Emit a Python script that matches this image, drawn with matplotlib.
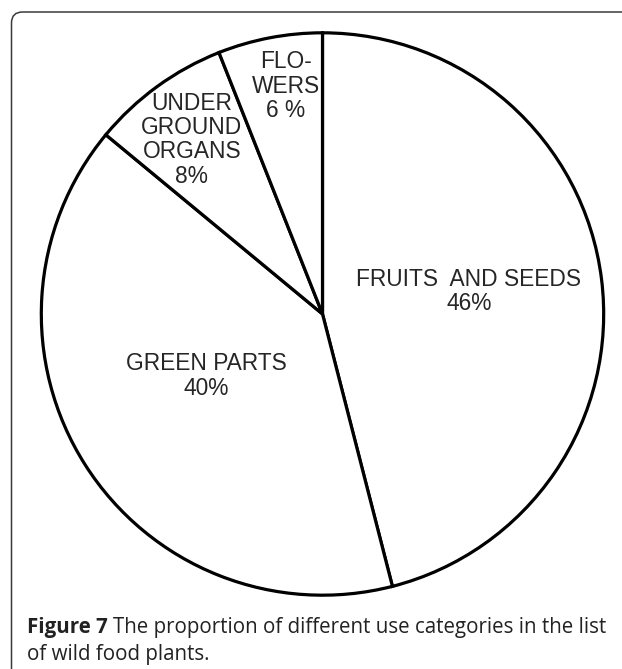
import matplotlib
matplotlib.use("Agg")
import matplotlib.pyplot as plt
from matplotlib.patches import FancyBboxPatch

# use categories and their shares (%)
categories = ["FRUITS  AND SEEDS", "GREEN PARTS", "UNDER\nGROUND\nORGANS", "FLO-\nWERS"]
shares = [46, 40, 8, 6]
pct_labels = ["46%", "40%", "8%", "6 %"]

# where each label sits inside the pie (in pie-radius units)
label_pos = [(0.52, 0.08), (-0.414, -0.22), (-0.465, 0.62), (-0.13, 0.81)]

W, H = 622, 669
fig = plt.figure(figsize=(W / 100, H / 100), dpi=100)

# frame around the figure panel
bg = fig.add_axes([0, 0, 1, 1])
bg.set_xlim(0, W)
bg.set_ylim(H, 0)
bg.axis("off")
frame = FancyBboxPatch((11.5, 12), 700, 700, boxstyle="round,pad=0,rounding_size=11",
                       fill=False, edgecolor="#3a3a3a", linewidth=1.1)
bg.add_patch(frame)

cx, cy, r = 322.5, 314, 284
ax = fig.add_axes([(cx - r) / W, 1 - (cy + r) / H, 2 * r / W, 2 * r / H])
ax.pie(shares, startangle=90, counterclock=False, radius=1,
       colors=["white"] * len(shares),
       wedgeprops=dict(edgecolor="black", linewidth=2.3))
ax.set_xlim(-1.01, 1.01)
ax.set_ylim(-1.01, 1.01)
ax.set_aspect("equal")
ax.axis("off")

for name, pct, (x, y) in zip(categories, pct_labels, label_pos):
    ax.text(x, y, name + "\n" + pct, ha="center", va="center", fontsize=16.4,
            family="Liberation Sans", color="#262626", linespacing=1.08)

# caption
fig.canvas.draw()
rend = fig.canvas.get_renderer()
cap_font = dict(family="Open Sans", fontsize=14.8, color="#222222")
t1 = fig.text(27 / W, 1 - 633 / H, "Figure 7", fontweight="bold", va="baseline", **cap_font)
bb = t1.get_window_extent(rend)
fig.text((bb.x1 + 5) / W, 1 - 633 / H, "The proportion of different use categories in the list",
         va="baseline", **cap_font)
fig.text(27 / W, 1 - 660 / H, "of wild food plants.", va="baseline", **cap_font)

fig.savefig("out.png", dpi=100)
